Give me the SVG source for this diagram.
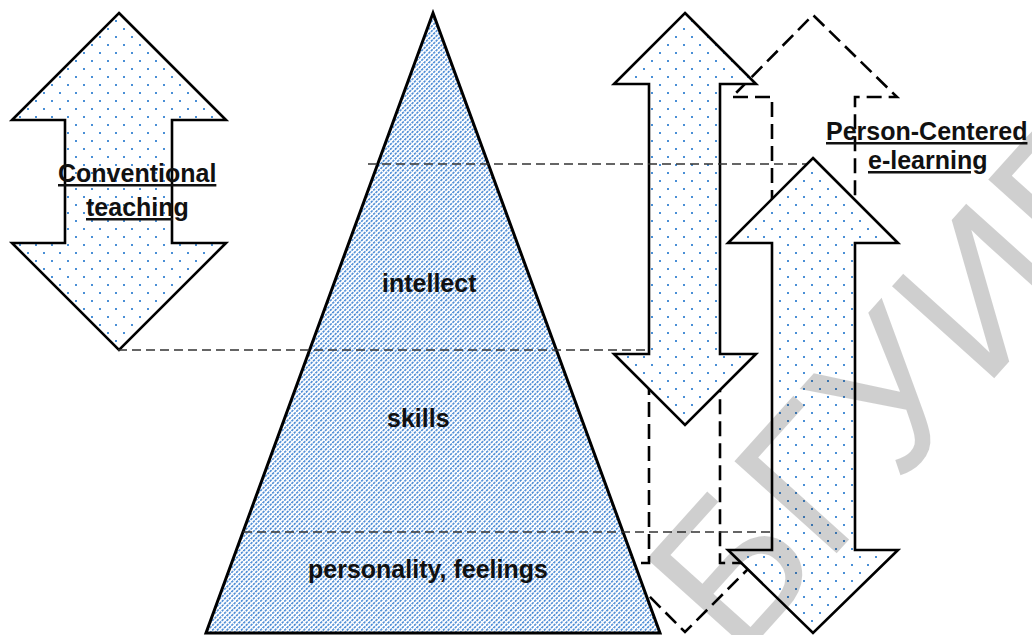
<svg xmlns="http://www.w3.org/2000/svg" width="1032" height="635" viewBox="0 0 1032 635">
<style>
.lbl{font-family:"Liberation Sans",Arial,sans-serif;font-weight:bold;font-size:25px;fill:#111}
.ul{text-decoration:underline}
.arrow{fill:url(#dots);stroke:#000;stroke-width:2.6;stroke-linejoin:miter}
.ghost{fill:none;stroke:#000;stroke-width:2.6;stroke-dasharray:15 7}
.guide{fill:none;stroke:#333;stroke-width:1.4;stroke-dasharray:9 5}
.wm{font-family:"Liberation Sans",Arial,sans-serif;font-size:200px;fill:#000;fill-opacity:0.19}
</style>
<defs>
<pattern id="dots" patternUnits="userSpaceOnUse" width="16" height="16">
<rect width="16" height="16" fill="#fff"/>
<rect x="3" y="4" width="2" height="2" fill="#4a8fd6"/>
<rect x="11" y="12" width="2" height="2" fill="#4a8fd6"/>
</pattern>
<pattern id="hatch" patternUnits="userSpaceOnUse" width="3.4" height="3.4" patternTransform="rotate(-45)">
<rect width="3.4" height="3.4" fill="#fff"/>
<rect x="0" y="0" width="2.4" height="1.6" fill="#4a8ad4"/>
</pattern>
</defs>
<rect width="1032" height="635" fill="#fff"/>
<g id="ghost-bottom">
<polyline class="ghost" points="649,380 649,563 616,563 685,632 754,563 720,563 720,380"/>
</g>
<g id="ghost-top">
<polyline class="ghost" points="772,205 772,97 732,97 813,15 897,97 855,97 855,205"/>
</g>
<g id="pyramid">
<polygon points="433,13 660,633 206,633" fill="url(#hatch)" stroke="#000" stroke-width="3" stroke-linejoin="miter"/>
</g>
<g id="conventional-arrow">
<polygon class="arrow" points="119,13 226,120 172,120 172,243 226,243 119,350 12,243 65,243 65,120 12,120"/>
</g>
<g id="arrow-left">
<polygon class="arrow" points="685,13 756,84 720,84 720,354 756,354 685,425 614,354 649,354 649,84 614,84"/>
</g>
<g id="connectors">
<line class="guide" x1="368" y1="164" x2="808" y2="164"/>
<line class="guide" x1="118" y1="350" x2="649" y2="350"/>
<line class="guide" x1="243" y1="532" x2="772" y2="532"/>
</g>
<g id="arrow-right">
<polygon class="arrow" points="813,158 898,243 855,243 855,550 898,550 813,633 728,550 772,550 772,243 728,243"/>
</g>
<g id="labels">
<text class="lbl ul" x="58" y="182">Conventional</text>
<text class="lbl ul" x="86" y="216">teaching</text>
<text class="lbl ul" x="826" y="140">Person-Centered</text>
<text class="lbl ul" x="868" y="169">e-learning</text>
<text class="lbl" x="382" y="292">intellect</text>
<text class="lbl" x="387" y="427">skills</text>
<text class="lbl" x="308" y="578">personality, feelings</text>
</g>
<text class="wm" transform="translate(738,663) rotate(-48)">БГУИР</text>
</svg>
